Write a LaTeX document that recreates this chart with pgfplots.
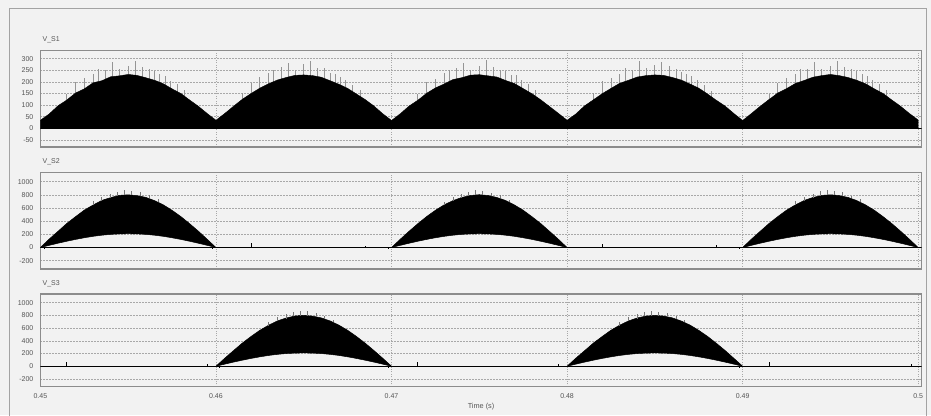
\documentclass[border=0pt]{standalone}
\usepackage{pgfplots}
\pgfplotsset{compat=1.18}
\usepackage{fontspec}
\setmainfont{Liberation Sans}
\definecolor{bg}{HTML}{F2F2F2}
\definecolor{frm}{HTML}{8C8C8C}
\definecolor{txt}{HTML}{555555}
\definecolor{grd}{HTML}{A8A8A8}
\definecolor{spk}{HTML}{959595}
\pgfplotsset{
  psim/.style={
    scale only axis, width=881.3pt,
    xmin=0.45, xmax=0.5002,
    xtick={0.45,0.46,0.47,0.48,0.49,0.5},
    xticklabels={},
    grid=major,
    y grid style={grd, line width=0.6pt, dash pattern=on 1.5pt off 1.5pt},
    x grid style={grd, line width=0.6pt, dash pattern=on 0.8pt off 1.6pt},
    axis line style={frm, line width=1.2pt},
    major tick length=0pt,
    tick label style={font=\fontsize{7}{8}\selectfont, text=txt},
    /pgf/number format/assume math mode=true,
    yticklabel style={xshift=-3.5pt},
    title style={at={(0,1)}, anchor=south west, inner sep=0pt, xshift=2pt, yshift=1pt, font=\fontsize{7}{8}\selectfont, text=txt},
    unbounded coords=jump,
    clip=true,
  }
}
\begin{document}
\begin{tikzpicture}
\fill[bg] (0,0) rectangle (931pt,415pt);
\path[use as bounding box] (0,0) rectangle (931pt,415pt);
\draw[frm!80, line width=1pt] (9pt,-10pt) -- (9pt,406pt) -- (926pt,406pt) -- (926pt,-10pt);

% ---------------- V_S1 ----------------
\begin{axis}[psim, at={(40.4pt,364.5pt)}, anchor=north west, height=96.5pt,
  ymin=-80, ymax=335,
  ytick={-50,0,50,100,150,200,250,300},
  yticklabels={-50,0,50,100,150,200,250,300},
  title={V\_S1}]
\addplot[ycomb, spk, line width=0.8pt, mark=none] coordinates {
(0.4515,150)(0.4520,200)(0.4525,215)(0.4530,235)(0.4533,255)(0.4537,250)(0.4541,285)(0.4545,255)(0.4550,270)(0.4554,290)(0.4558,265)(0.4562,255)(0.4565,245)(0.4568,232)(0.4571,225)(0.4574,205)(0.4578,190)(0.4582,165)
(0.4615,152)(0.4620,195)(0.4625,220)(0.4630,238)(0.4633,250)(0.4637,262)(0.4641,280)(0.4645,250)(0.4650,275)(0.4654,288)(0.4658,260)(0.4662,258)(0.4665,240)(0.4668,235)(0.4671,222)(0.4674,210)(0.4678,188)(0.4682,163)
(0.4715,148)(0.4720,198)(0.4725,212)(0.4730,240)(0.4733,252)(0.4737,258)(0.4741,283)(0.4745,252)(0.4750,268)(0.4754,292)(0.4758,262)(0.4762,250)(0.4765,248)(0.4768,230)(0.4771,228)(0.4774,208)(0.4778,192)(0.4782,166)
(0.4815,151)(0.4820,202)(0.4825,218)(0.4830,236)(0.4833,258)(0.4837,252)(0.4841,288)(0.4845,258)(0.4850,272)(0.4854,286)(0.4858,268)(0.4862,256)(0.4865,242)(0.4868,236)(0.4871,224)(0.4874,206)(0.4878,186)(0.4882,162)
(0.4915,150)(0.4920,196)(0.4925,216)(0.4930,232)(0.4933,254)(0.4937,256)(0.4941,284)(0.4945,254)(0.4950,270)(0.4954,290)(0.4958,264)(0.4962,254)(0.4965,246)(0.4968,234)(0.4971,226)(0.4974,207)(0.4978,191)(0.4982,164)
};
\addplot[fill=black, draw=black, line width=0.4pt, mark=none] coordinates {
(0.4500,35)(0.4505,62)(0.4510,97)(0.4515,122)(0.4520,152)(0.4525,170)(0.4530,196)(0.4535,205)(0.4540,222)(0.4545,226)(0.4550,232)(0.4555,228)(0.4560,218)(0.4565,207)(0.4570,192)(0.4575,170)(0.4580,150)(0.4585,122)(0.4590,95)(0.4595,64)(0.4600,35)
(0.4605,64)(0.4610,95)(0.4615,125)(0.4620,150)(0.4625,173)(0.4630,192)(0.4635,208)(0.4640,219)(0.4645,228)(0.4650,230)(0.4655,227)(0.4660,220)(0.4665,205)(0.4670,190)(0.4675,172)(0.4680,148)(0.4685,124)(0.4690,96)(0.4695,63)(0.4700,34)
(0.4705,63)(0.4710,96)(0.4715,121)(0.4720,151)(0.4725,174)(0.4730,191)(0.4735,210)(0.4740,218)(0.4745,229)(0.4750,231)(0.4755,226)(0.4760,221)(0.4765,206)(0.4770,193)(0.4775,171)(0.4780,149)(0.4785,123)(0.4790,94)(0.4795,65)(0.4800,35)
(0.4805,62)(0.4810,97)(0.4815,123)(0.4820,149)(0.4825,172)(0.4830,194)(0.4835,207)(0.4840,221)(0.4845,227)(0.4850,230)(0.4855,228)(0.4860,219)(0.4865,208)(0.4870,191)(0.4875,173)(0.4880,148)(0.4885,121)(0.4890,96)(0.4895,64)(0.4900,34)
(0.4905,64)(0.4910,95)(0.4915,124)(0.4920,152)(0.4925,171)(0.4930,193)(0.4935,206)(0.4940,220)(0.4945,227)(0.4950,232)(0.4955,227)(0.4960,219)(0.4965,207)(0.4970,192)(0.4975,170)(0.4980,150)(0.4985,122)(0.4990,95)(0.4995,64)(0.5000,36)
} \closedcycle;
\addplot[black, line width=1pt, mark=none] coordinates {(0.45,0)(0.5002,0)};
\end{axis}

% ---------------- V_S2 ----------------
\begin{axis}[psim, at={(40.4pt,242.7pt)}, anchor=north west, height=96.7pt,
  ymin=-326, ymax=1142,
  ytick={-200,0,200,400,600,800,1000},
  yticklabels={-200,0,200,400,600,800,1000},
  title={V\_S2}]
\addplot[black, line width=1.1pt, mark=none] coordinates {(0.45,0)(0.5002,0)};
\addplot[fill=black, draw=black, line width=0.5pt, mark=none] coordinates {
(0.4500,0)(0.4505,128)(0.4510,245)(0.4515,365)(0.4520,468)(0.4525,568)(0.4530,645)(0.4535,715)(0.4540,758)(0.4545,792)(0.4550,800)(0.4555,788)(0.4560,762)(0.4565,712)(0.4570,648)(0.4575,565)(0.4580,470)(0.4585,362)(0.4590,248)(0.4595,125)(0.4600,0)
(0.4595,33)(0.4590,65)(0.4585,95)(0.4580,123)(0.4575,148)(0.4570,170)(0.4565,187)(0.4560,200)(0.4555,207)(0.4550,210)(0.4545,207)(0.4540,200)(0.4535,187)(0.4530,170)(0.4525,148)(0.4520,123)(0.4515,95)(0.4510,65)(0.4505,33)
} -- cycle;
\addplot[fill=black, draw=black, line width=0.5pt, mark=none] coordinates {
(0.4700,0)(0.4705,126)(0.4710,247)(0.4715,362)(0.4720,470)(0.4725,565)(0.4730,648)(0.4735,712)(0.4740,760)(0.4745,790)(0.4750,802)(0.4755,790)(0.4760,760)(0.4765,714)(0.4770,646)(0.4775,566)(0.4780,468)(0.4785,364)(0.4790,246)(0.4795,127)(0.4800,0)
(0.4795,33)(0.4790,65)(0.4785,95)(0.4780,123)(0.4775,148)(0.4770,170)(0.4765,187)(0.4760,200)(0.4755,207)(0.4750,210)(0.4745,207)(0.4740,200)(0.4735,187)(0.4730,170)(0.4725,148)(0.4720,123)(0.4715,95)(0.4710,65)(0.4705,33)
} -- cycle;
\addplot[fill=black, draw=black, line width=0.5pt, mark=none] coordinates {
(0.4900,0)(0.4905,127)(0.4910,246)(0.4915,364)(0.4920,469)(0.4925,567)(0.4930,646)(0.4935,714)(0.4940,759)(0.4945,791)(0.4950,801)(0.4955,789)(0.4960,761)(0.4965,713)(0.4970,647)(0.4975,566)(0.4980,469)(0.4985,363)(0.4990,247)(0.4995,126)(0.5000,0)
(0.4995,33)(0.4990,65)(0.4985,95)(0.4980,123)(0.4975,148)(0.4970,170)(0.4965,187)(0.4960,200)(0.4955,207)(0.4950,210)(0.4945,207)(0.4940,200)(0.4935,187)(0.4930,170)(0.4925,148)(0.4920,123)(0.4915,95)(0.4910,65)(0.4905,33)
} -- cycle;
\addplot[spk!80!black, line width=0.7pt, mark=none] coordinates {
(0.4530,640)(0.4530,700)(0.4530,nan)(0.4535,710)(0.4535,770)(0.4535,nan)(0.4540,750)(0.4540,815)(0.4540,nan)(0.4544,785)(0.4544,850)(0.4544,nan)(0.4548,795)(0.4548,870)(0.4548,nan)(0.4552,795)(0.4552,860)(0.4552,nan)(0.4557,780)(0.4557,840)(0.4557,nan)(0.4562,745)(0.4562,790)(0.4562,nan)(0.4567,690)(0.4567,730)(0.4567,nan)
(0.4730,640)(0.4730,695)(0.4730,nan)(0.4735,710)(0.4735,765)(0.4735,nan)(0.4740,750)(0.4740,820)(0.4740,nan)(0.4744,785)(0.4744,845)(0.4744,nan)(0.4748,795)(0.4748,872)(0.4748,nan)(0.4752,795)(0.4752,858)(0.4752,nan)(0.4757,780)(0.4757,835)(0.4757,nan)(0.4762,745)(0.4762,792)(0.4762,nan)(0.4767,690)(0.4767,728)(0.4767,nan)
(0.4930,640)(0.4930,702)(0.4930,nan)(0.4935,710)(0.4935,772)(0.4935,nan)(0.4940,750)(0.4940,812)(0.4940,nan)(0.4944,785)(0.4944,852)(0.4944,nan)(0.4948,795)(0.4948,868)(0.4948,nan)(0.4952,795)(0.4952,862)(0.4952,nan)(0.4957,780)(0.4957,842)(0.4957,nan)(0.4962,745)(0.4962,788)(0.4962,nan)(0.4967,690)(0.4967,732)(0.4967,nan)
};
\addplot[black, line width=0.8pt, mark=none] coordinates {
(0.4620,0)(0.4620,70)(0.4620,nan)(0.4685,0)(0.4685,30)(0.4685,nan)(0.4820,0)(0.4820,60)(0.4820,nan)(0.4885,0)(0.4885,35)(0.4885,nan)(0.4598,0)(0.4598,-25)(0.4598,nan)(0.4698,0)(0.4698,-25)(0.4698,nan)(0.4898,0)(0.4898,-25)(0.4898,nan)(0.4502,0)(0.4502,-20)(0.4502,nan)
};
\end{axis}

% ---------------- V_S3 ----------------
\begin{axis}[psim, at={(40.4pt,121pt)}, anchor=north west, height=92.7pt,
  ymin=-322, ymax=1137,
  ytick={-200,0,200,400,600,800,1000},
  yticklabels={-200,0,200,400,600,800,1000},
  xticklabels={0.45,0.46,0.47,0.48,0.49,0.5},
  xticklabel style={yshift=-3pt},
  xlabel={Time (s)},
  xlabel style={at={(axis description cs:0.5,0)}, anchor=center, yshift=-19.5pt, font=\fontsize{7.3}{8}\selectfont, text=txt},
  title={V\_S3}]
\addplot[black, line width=1.1pt, mark=none] coordinates {(0.45,0)(0.5002,0)};
\addplot[fill=black, draw=black, line width=0.5pt, mark=none] coordinates {
(0.4600,0)(0.4605,126)(0.4610,246)(0.4615,364)(0.4620,469)(0.4625,566)(0.4630,646)(0.4635,714)(0.4640,759)(0.4645,791)(0.4650,801)(0.4655,789)(0.4660,761)(0.4665,713)(0.4670,647)(0.4675,566)(0.4680,469)(0.4685,363)(0.4690,247)(0.4695,126)(0.4700,0)
(0.4695,33)(0.4690,65)(0.4685,95)(0.4680,123)(0.4675,148)(0.4670,170)(0.4665,187)(0.4660,200)(0.4655,207)(0.4650,210)(0.4645,207)(0.4640,200)(0.4635,187)(0.4630,170)(0.4625,148)(0.4620,123)(0.4615,95)(0.4610,65)(0.4605,33)
} -- cycle;
\addplot[fill=black, draw=black, line width=0.5pt, mark=none] coordinates {
(0.4800,0)(0.4805,127)(0.4810,245)(0.4815,365)(0.4820,468)(0.4825,567)(0.4830,647)(0.4835,713)(0.4840,760)(0.4845,790)(0.4850,800)(0.4855,790)(0.4860,761)(0.4865,712)(0.4870,648)(0.4875,565)(0.4880,470)(0.4885,362)(0.4890,248)(0.4895,125)(0.4900,0)
(0.4895,33)(0.4890,65)(0.4885,95)(0.4880,123)(0.4875,148)(0.4870,170)(0.4865,187)(0.4860,200)(0.4855,207)(0.4850,210)(0.4845,207)(0.4840,200)(0.4835,187)(0.4830,170)(0.4825,148)(0.4820,123)(0.4815,95)(0.4810,65)(0.4805,33)
} -- cycle;
\addplot[spk!80!black, line width=0.7pt, mark=none] coordinates {
(0.4630,640)(0.4630,698)(0.4630,nan)(0.4635,710)(0.4635,768)(0.4635,nan)(0.4640,750)(0.4640,818)(0.4640,nan)(0.4644,785)(0.4644,848)(0.4644,nan)(0.4648,795)(0.4648,870)(0.4648,nan)(0.4652,795)(0.4652,862)(0.4652,nan)(0.4657,780)(0.4657,838)(0.4657,nan)(0.4662,745)(0.4662,790)(0.4662,nan)(0.4667,690)(0.4667,730)(0.4667,nan)
(0.4830,640)(0.4830,700)(0.4830,nan)(0.4835,710)(0.4835,770)(0.4835,nan)(0.4840,750)(0.4840,815)(0.4840,nan)(0.4844,785)(0.4844,850)(0.4844,nan)(0.4848,795)(0.4848,870)(0.4848,nan)(0.4852,795)(0.4852,860)(0.4852,nan)(0.4857,780)(0.4857,840)(0.4857,nan)(0.4862,745)(0.4862,790)(0.4862,nan)(0.4867,690)(0.4867,730)(0.4867,nan)
};
\addplot[black, line width=0.8pt, mark=none] coordinates {
(0.4515,0)(0.4515,70)(0.4515,nan)(0.4595,0)(0.4595,35)(0.4595,nan)(0.4715,0)(0.4715,60)(0.4715,nan)(0.4795,0)(0.4795,30)(0.4795,nan)(0.4915,0)(0.4915,60)(0.4915,nan)(0.4996,0)(0.4996,40)(0.4996,nan)(0.4698,0)(0.4698,-25)(0.4698,nan)(0.4898,0)(0.4898,-25)(0.4898,nan)(0.4602,0)(0.4602,-20)(0.4602,nan)
};
\end{axis}
\end{tikzpicture}
\end{document}
